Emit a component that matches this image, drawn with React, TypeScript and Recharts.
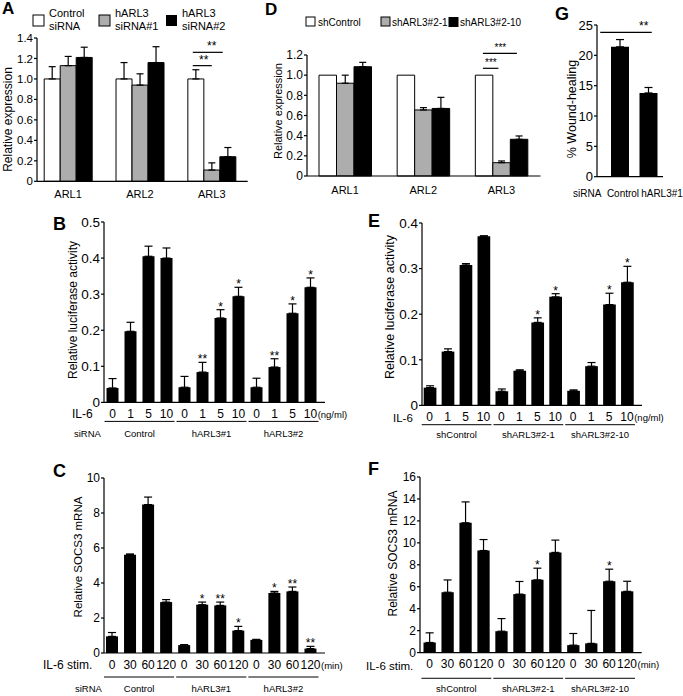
import React from "react";
import { BarChart, Bar, XAxis, YAxis, ErrorBar, LabelList, ReferenceArea } from "recharts";

const FONT = '"Liberation Sans", Arial, Helvetica, sans-serif';
const INK = "#000";
const GREY = "#adadad";

// A - ARL expression, hARL3 siRNA
const genes = ["ARL1", "ARL2", "ARL3"];
const aCtrl = [1.0, 1.0, 1.0];
const aCtrlErr = [0.12, 0.16, 0.09];
const aSi1 = [1.13, 0.94, 0.11];
const aSi1Err = [0.09, 0.11, 0.07];
const aSi2 = [1.21, 1.16, 0.24];
const aSi2Err = [0.1, 0.155, 0.09];
const aTicks = [0, 0.2, 0.4, 0.6, 0.8, 1.0, 1.2, 1.4];
const aBracketLevels = [1.13, 1.26];
const aBracketStars = ["**", "**"];

// D - ARL expression, shRNA clones
const dCtrl = [1.0, 1.0, 1.0];
const dSh1 = [0.92, 0.655, 0.132];
const dSh1Err = [0.08, 0.023, 0.017];
const dSh10 = [1.084, 0.67, 0.364];
const dSh10Err = [0.043, 0.11, 0.033];
const dTicks = [0, 0.2, 0.4, 0.6, 0.8, 1.0, 1.2];
const dBracketLevels = [1.068, 1.217];
const dBracketStars = ["***", "***"];

// G - wound healing
const gSirna = ["Control", "hARL3#1"];
const gWound = [21.4, 13.8];
const gWoundErr = [1.2, 0.9];
const gTicks = [0, 5, 10, 15, 20, 25];
const gBracketLevel = 23.8;

// B / E - luciferase vs IL-6 dose
const il6Doses = ["0", "1", "5", "10"];
const sirnaGroups = ["Control", "hARL3#1", "hARL3#2"];
const shGroups = ["shControl", "shARL3#2-1", "shARL3#2-10"];
const bLuc = [0.04, 0.197, 0.405, 0.4, 0.042, 0.084, 0.234, 0.294, 0.042, 0.098, 0.247, 0.319];
const bLucErr = [0.026, 0.025, 0.028, 0.028, 0.03, 0.027, 0.023, 0.025, 0.025, 0.023, 0.026, 0.026];
const bStars = ["", "", "", "", "", "**", "*", "*", "", "**", "*", "*"];
const bTicks = [0, 0.1, 0.2, 0.3, 0.4, 0.5];
const eLuc = [0.039, 0.118, 0.308, 0.371, 0.031, 0.076, 0.182, 0.238, 0.032, 0.086, 0.221, 0.27];
const eLucErr = [0.004, 0.006, 0.003, 0.001, 0.005, 0.002, 0.01, 0.007, 0.002, 0.008, 0.025, 0.035];
const eStars = ["", "", "", "", "", "", "*", "*", "", "", "*", "*"];
const eTicks = [0, 0.1, 0.2, 0.3, 0.4];

// C / F - SOCS3 mRNA vs IL-6 stimulation time
const stimMin = ["0", "30", "60", "120"];
const cSocs = [0.95, 5.62, 8.48, 2.91, 0.45, 2.76, 2.72, 1.28, 0.75, 3.43, 3.52, 0.25];
const cSocsErr = [0.22, 0.04, 0.43, 0.14, 0.03, 0.15, 0.19, 0.24, 0.03, 0.09, 0.25, 0.13];
const cStars = ["", "", "", "", "", "*", "**", "*", "", "*", "**", "**"];
const cTicks = [0, 2, 4, 6, 8, 10];
const fSocs = [0.92, 5.5, 11.83, 9.3, 1.95, 5.33, 6.63, 9.13, 0.68, 0.84, 6.5, 5.58];
const fSocsErr = [0.88, 1.12, 1.9, 1.0, 1.15, 1.15, 1.06, 1.12, 1.06, 3.0, 1.1, 0.92];
const fStars = ["", "", "", "", "", "", "*", "", "", "", "*", ""];
const fTicks = [0, 2, 4, 6, 8, 10, 12, 14, 16];

type Plot = { x0: number; x1: number; y0: number; y1: number };
const YW = 40;
const TOP = 14;
const RIGHT = 50;
const BOTTOM = 46;
const XH = 20;

function frameOf(p: Plot) {
  return {
    style: { position: "absolute" as const, left: p.x0 - YW, top: p.y0 - TOP },
    width: p.x1 - p.x0 + YW + RIGHT,
    height: p.y1 - p.y0 + TOP + BOTTOM,
    margin: { top: TOP, right: RIGHT, bottom: BOTTOM - XH, left: 0 },
    base: p.y1 - p.y0 + TOP,
  };
}

const fmt1 = (v: number) => (v === 0 ? "0" : v.toFixed(1));
const fmtInt = (v: number) => String(v);
const axisLine = { stroke: INK, strokeWidth: 1.2 };

function yAxisProps(max: number, ticks: number[], fmt: (v: number) => string, fontSize: number) {
  return {
    width: YW,
    type: "number" as const,
    domain: [0, max],
    ticks,
    interval: 0 as const,
    tickFormatter: fmt,
    tick: { fontSize, fill: INK, fontFamily: FONT },
    tickSize: 3,
    tickMargin: 1,
    axisLine,
    tickLine: axisLine,
  };
}

const doseRows = (groups: string[], doses: string[], vals: number[], errs: number[], stars: string[]) =>
  groups.flatMap((g, gi) =>
    doses.map((d, di) => {
      const i = gi * doses.length + di;
      return { key: `${g}|${d}`, dose: d, value: vals[i], err: [0, errs[i]], star: stars[i] };
    })
  );

type DoseProps = {
  rows: ReturnType<typeof doseRows>;
  groups: string[];
  doses: string[];
  plot: Plot;
  max: number;
  ticks: number[];
  fmt: (v: number) => string;
  tickFont: number;
  padL: number;
  padR: number;
  barSize: number;
  unit: string;
  tickOff: number;
  lineOff: number;
  labelOff: number;
};

function DosePanel(props: DoseProps) {
  const { rows, groups, doses, plot, max, ticks, fmt, tickFont, padL, padR, barSize, unit, tickOff, lineOff, labelOff } = props;
  const f = frameOf(plot);
  const last = rows[rows.length - 1];
  // half the width of the last dose label, so the unit follows it directly
  const unitDx = (last.dose.length * 0.556 * 12) / 2 + 0.5;

  const tick = (t: any) => {
    const key = String(t.payload.value);
    const dose = key.split("|")[1];
    return (
      <g>
        <text x={t.x} y={f.base + tickOff} textAnchor="middle" fontSize={12} fontFamily={FONT} fill={INK}>
          {dose}
        </text>
        {key === last.key && (
          <text x={t.x + unitDx} y={f.base + tickOff} fontSize={9.5} fontFamily={FONT} fill={INK}>
            {unit}
          </text>
        )}
      </g>
    );
  };

  const star = (p: any) => {
    const row = rows[p.index];
    if (!row || !row.star) return null;
    const vb = p.viewBox;
    const top = Math.min(vb.y, vb.y + vb.height);
    const h = Math.abs(vb.height);
    const capY = top - (row.err[1] * h) / row.value;
    return (
      <text x={vb.x + vb.width / 2} y={capY + 1} textAnchor="middle" fontSize={12} fontFamily={FONT} fill={INK}>
        {row.star}
      </text>
    );
  };

  return (
    <div style={f.style}>
      <BarChart width={f.width} height={f.height} data={rows} margin={f.margin} barGap={0}>
        <XAxis
          dataKey="key"
          interval={0}
          height={XH}
          padding={{ left: padL, right: padR }}
          tickLine={false}
          axisLine={axisLine}
          tick={tick}
        />
        <YAxis {...yAxisProps(max, ticks, fmt, tickFont)} />
        {groups.map((g) => (
          <ReferenceArea
            key={g}
            x1={`${g}|${doses[0]}`}
            x2={`${g}|${doses[doses.length - 1]}`}
            ifOverflow="visible"
            shape={(s: any) => (
              <g>
                <line x1={s.x + 1} x2={s.x + s.width - 1} y1={f.base + lineOff} y2={f.base + lineOff} stroke={INK} strokeWidth={1} />
                <text x={s.x + s.width / 2} y={f.base + labelOff} textAnchor="middle" fontSize={9.5} fontFamily={FONT} fill={INK}>
                  {g}
                </text>
              </g>
            )}
          />
        ))}
        <Bar dataKey="value" fill={INK} barSize={barSize} isAnimationActive={false}>
          <ErrorBar dataKey="err" width={4} stroke={INK} strokeWidth={1.2} direction="y" />
          <LabelList dataKey="value" content={star} />
        </Bar>
      </BarChart>
    </div>
  );
}

type Series = { key: string; err?: string; fill: string };
type Bracket = { level: number; stars: string; from: number; to: number; at: number; font: number };

function GenePanel(props: {
  rows: any[];
  cat: string;
  target: string;
  plot: Plot;
  max: number;
  ticks: number[];
  tickFont: number;
  padL: number;
  barSize: number;
  series: Series[];
  labelFont: number;
  labelOff: number;
  brackets: Bracket[];
}) {
  const { rows, cat, target, plot, max, ticks, tickFont, padL, barSize, series, labelFont, labelOff, brackets } = props;
  const f = frameOf(plot);
  const tick = (t: any) => (
    <text x={t.x} y={f.base + labelOff} textAnchor="middle" fontSize={labelFont} fontFamily={FONT} fill={INK}>
      {t.payload.value}
    </text>
  );
  return (
    <div style={f.style}>
      <BarChart width={f.width} height={f.height} data={rows} margin={f.margin} barGap={0}>
        <XAxis dataKey={cat} interval={0} height={XH} padding={{ left: padL, right: 0 }} tickLine={false} axisLine={axisLine} tick={tick} />
        <YAxis {...yAxisProps(max, ticks, fmt1, tickFont)} />
        {series.map((s) => (
          <Bar key={s.key} dataKey={s.key} fill={s.fill} stroke={INK} strokeWidth={1} barSize={barSize} isAnimationActive={false}>
            {s.err && <ErrorBar dataKey={s.err} width={3.5} stroke={INK} strokeWidth={1.2} direction="y" />}
          </Bar>
        ))}
        {brackets.map((b, i) => (
          <ReferenceArea
            key={i}
            x1={target}
            x2={target}
            y1={0}
            y2={b.level}
            ifOverflow="visible"
            shape={(s: any) => {
              const bc = s.x + s.width / 2;
              return (
                <g>
                  <line x1={bc + b.from} x2={bc + b.to} y1={s.y} y2={s.y} stroke={INK} strokeWidth={1.2} />
                  <text x={bc + b.at} y={s.y - 2} textAnchor="middle" fontSize={b.font} fontFamily={FONT} fill={INK}>
                    {b.stars}
                  </text>
                </g>
              );
            }}
          />
        ))}
      </BarChart>
    </div>
  );
}

function WoundPanel() {
  const plot = { x0: 597, x1: 663, y0: 25, y1: 176.7 };
  const f = frameOf(plot);
  const rows = gSirna.map((s, i) => ({ sirna: s, value: gWound[i], err: [0, gWoundErr[i]] }));
  const dx = [2.75, 13.25];
  const tick = (t: any) => (
    <text x={t.x + dx[t.index ?? 0]} y={f.base + 20} textAnchor="middle" fontSize={10} fontFamily={FONT} fill={INK}>
      {t.payload.value}
    </text>
  );
  return (
    <div style={f.style}>
      <BarChart width={f.width} height={f.height} data={rows} margin={f.margin}>
        <XAxis dataKey="sirna" interval={0} height={XH} padding={{ left: 9, right: 0 }} tickLine={false} axisLine={axisLine} tick={tick} />
        <YAxis {...yAxisProps(25, gTicks, fmtInt, 13)} />
        <Bar dataKey="value" fill={INK} barSize={18} isAnimationActive={false}>
          <ErrorBar dataKey="err" width={4} stroke={INK} strokeWidth={1.2} direction="y" />
        </Bar>
        <ReferenceArea
          x1={gSirna[0]}
          x2={gSirna[1]}
          y1={0}
          y2={gBracketLevel}
          ifOverflow="visible"
          shape={(s: any) => {
            const c0 = s.x + s.width / 4;
            const c1 = s.x + (3 * s.width) / 4;
            return (
              <g>
                <line x1={c0 - 20} x2={c1 + 3} y1={s.y} y2={s.y} stroke={INK} strokeWidth={1.2} />
                <text x={c1 - 5} y={s.y - 2} textAnchor="middle" fontSize={12} fontFamily={FONT} fill={INK}>
                  **
                </text>
              </g>
            );
          }}
        />
      </BarChart>
    </div>
  );
}

function Overlay() {
  const rot = (x: number, y: number, s: string, size: number) => (
    <text transform={`translate(${x},${y}) rotate(-90)`} textAnchor="middle" dominantBaseline="central" fontSize={size}>
      {s}
    </text>
  );
  const letter = (x: number, y: number, s: string, size: number) => (
    <text x={x} y={y} fontSize={size} fontWeight="bold">
      {s}
    </text>
  );
  return (
    <svg
      width={683}
      height={696}
      style={{ position: "absolute", left: 0, top: 0, pointerEvents: "none" }}
      fontFamily={FONT}
      fill={INK}
    >
      {letter(2, 14, "A", 17)}
      {letter(265, 15, "D", 17)}
      {letter(555, 20, "G", 18)}
      {letter(53, 230, "B", 18)}
      {letter(368, 227, "E", 18)}
      {letter(53, 477, "C", 18)}
      {letter(368, 475, "F", 18)}

      {rot(8, 119.5, "Relative expression", 12)}
      {rot(277.5, 111, "Relative expression", 11)}
      {rot(572, 109, "% Wound-healing", 12.5)}
      {rot(73, 310, "Relative luciferase activity", 12)}
      {rot(390, 307, "Relative luciferase activity", 12.5)}
      {rot(78, 557, "Relative SOCS3 mRNA", 11.5)}
      {rot(393, 553.5, "Relative SOCS3 mRNA", 12)}

      {/* A legend */}
      <rect x={33} y={15} width={11} height={11} fill="#fff" stroke={INK} strokeWidth={1} />
      <rect x={99} y={15} width={11} height={11} fill={GREY} stroke={INK} strokeWidth={1} />
      <rect x={166} y={15} width={11} height={11} fill={INK} />
      <g fontSize={11}>
        <text x={49} y={17}>Control</text>
        <text x={49} y={29.5}>siRNA</text>
        <text x={115} y={17}>hARL3</text>
        <text x={115} y={29.5}>siRNA#1</text>
        <text x={182} y={17}>hARL3</text>
        <text x={182} y={29.5}>siRNA#2</text>
      </g>

      {/* D legend */}
      <rect x={306} y={17} width={9} height={9} fill="#fff" stroke={INK} strokeWidth={1} />
      <rect x={381} y={17} width={9} height={9} fill={GREY} stroke={INK} strokeWidth={1} />
      <rect x={448.5} y={17} width={10} height={10} fill={INK} />
      <g fontSize={10}>
        <text x={318} y={25.5}>shControl</text>
        <text x={392} y={25.5}>shARL3#2-1</text>
        <text x={460} y={25.5}>shARL3#2-10</text>
      </g>

      {/* row captions */}
      <text x={573} y={197} fontSize={10}>siRNA</text>
      <text x={72} y={418} fontSize={12}>IL-6</text>
      <text x={74} y={437} fontSize={9.5}>siRNA</text>
      <text x={393} y={422} fontSize={11.5}>IL-6</text>
      <text x={43} y={669} fontSize={12}>IL-6 stim.</text>
      <text x={75} y={692} fontSize={9.5}>siRNA</text>
      <text x={366} y={669.5} fontSize={11.5}>IL-6 stim.</text>
    </svg>
  );
}

export default function App() {
  const aRows = genes.map((g, i) => ({
    gene: g,
    ctrl: aCtrl[i],
    ctrlErr: [0, aCtrlErr[i]],
    si1: aSi1[i],
    si1Err: [0, aSi1Err[i]],
    si2: aSi2[i],
    si2Err: [0, aSi2Err[i]],
  }));
  const dRows = genes.map((g, i) => ({
    gene: g,
    ctrl: dCtrl[i],
    sh1: dSh1[i],
    sh1Err: [0, dSh1Err[i]],
    sh10: dSh10[i],
    sh10Err: [0, dSh10Err[i]],
  }));

  return (
    <div
      style={{
        position: "absolute",
        left: 0,
        top: 0,
        width: 683,
        height: 696,
        overflow: "hidden",
        background: "#fff",
        fontFamily: FONT,
      }}
    >
      <GenePanel
        rows={aRows}
        cat="gene"
        target="ARL3"
        plot={{ x0: 37.3, x1: 248, y0: 37.7, y1: 181 }}
        max={1.4}
        ticks={aTicks}
        tickFont={11.5}
        padL={-4.8}
        barSize={16}
        series={[
          { key: "ctrl", err: "ctrlErr", fill: "#fff" },
          { key: "si1", err: "si1Err", fill: GREY },
          { key: "si2", err: "si2Err", fill: INK },
        ]}
        labelFont={11}
        labelOff={17}
        brackets={[
          { level: aBracketLevels[0], stars: aBracketStars[0], from: -19, to: 0, at: -8, font: 12 },
          { level: aBracketLevels[1], stars: aBracketStars[1], from: -19, to: 11, at: 0, font: 12 },
        ]}
      />
      <GenePanel
        rows={dRows}
        cat="gene"
        target="ARL3"
        plot={{ x0: 306.5, x1: 540, y0: 55, y1: 176 }}
        max={1.2}
        ticks={dTicks}
        tickFont={12}
        padL={-1}
        barSize={17.5}
        series={[
          { key: "ctrl", fill: "#fff" },
          { key: "sh1", err: "sh1Err", fill: GREY },
          { key: "sh10", err: "sh10Err", fill: INK },
        ]}
        labelFont={11}
        labelOff={18}
        brackets={[
          { level: dBracketLevels[0], stars: dBracketStars[0], from: -18.5, to: -3, at: -10.5, font: 10 },
          { level: dBracketLevels[1], stars: dBracketStars[1], from: -18.5, to: 15.5, at: -1, font: 10 },
        ]}
      />
      <WoundPanel />
      <DosePanel
        rows={doseRows(sirnaGroups, il6Doses, bLuc, bLucErr, bStars)}
        groups={sirnaGroups}
        doses={il6Doses}
        plot={{ x0: 104, x1: 325, y0: 222.3, y1: 402.7 }}
        max={0.5}
        ticks={bTicks}
        fmt={fmt1}
        tickFont={13.5}
        padL={-0.5}
        padR={5.5}
        barSize={12}
        unit="(ng/ml)"
        tickOff={15.3}
        lineOff={19}
        labelOff={34.3}
      />
      <DosePanel
        rows={doseRows(shGroups, il6Doses, eLuc, eLucErr, eStars)}
        groups={shGroups}
        doses={il6Doses}
        plot={{ x0: 422, x1: 642, y0: 223.3, y1: 405.7 }}
        max={0.4}
        ticks={eTicks}
        fmt={fmt1}
        tickFont={13.5}
        padL={-1.3}
        padR={6}
        barSize={12.7}
        unit="(ng/ml)"
        tickOff={15.3}
        lineOff={19.3}
        labelOff={32.3}
      />
      <DosePanel
        rows={doseRows(sirnaGroups, stimMin, cSocs, cSocsErr, cStars)}
        groups={sirnaGroups}
        doses={stimMin}
        plot={{ x0: 104, x1: 325, y0: 478.3, y1: 653.3 }}
        max={10}
        ticks={cTicks}
        fmt={fmtInt}
        tickFont={12}
        padL={-1}
        padR={5.5}
        barSize={12}
        unit="(min)"
        tickOff={15.7}
        lineOff={24}
        labelOff={38.7}
      />
      <DosePanel
        rows={doseRows(shGroups, stimMin, fSocs, fSocsErr, fStars)}
        groups={shGroups}
        doses={stimMin}
        plot={{ x0: 420, x1: 641.7, y0: 476.7, y1: 652.3 }}
        max={16}
        ticks={fTicks}
        fmt={fmtInt}
        tickFont={12}
        padL={0.5}
        padR={5.7}
        barSize={12.3}
        unit="(min)"
        tickOff={15.7}
        lineOff={25.7}
        labelOff={39.7}
      />
      <Overlay />
    </div>
  );
}
